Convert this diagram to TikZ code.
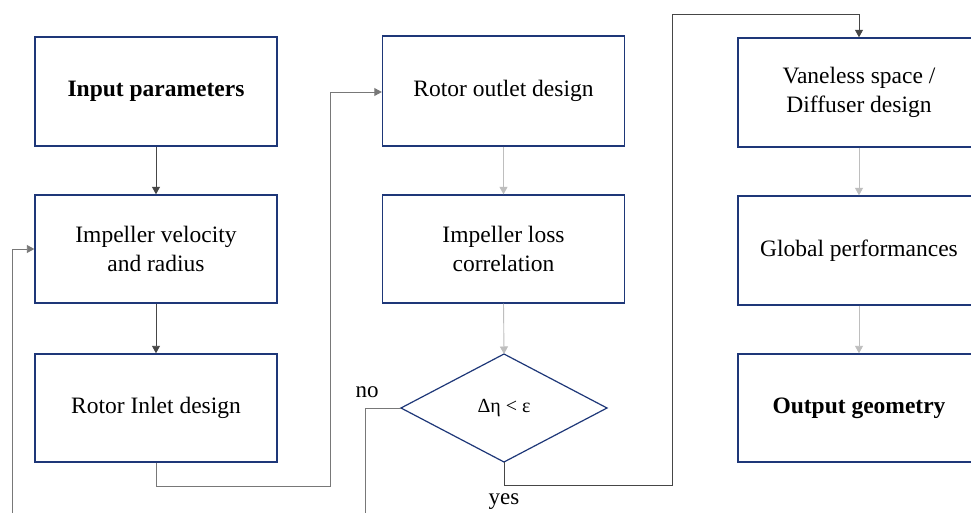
\documentclass[tikz,border=0pt]{standalone}
\usepackage{fontspec}
\setmainfont{Liberation Serif}
\usetikzlibrary{shapes.geometric,arrows.meta}
\definecolor{navy}{RGB}{30,55,120}
\definecolor{darkln}{RGB}{70,70,70}
\definecolor{midln}{RGB}{120,120,120}
\definecolor{lightln}{RGB}{190,190,190}
\tikzset{
  box/.style={draw=navy, line width=1.4pt, fill=white, minimum width=242pt, minimum height=109pt, inner sep=0pt, align=center, font=\fontsize{23.5}{28.5}\selectfont},
  decision/.style={diamond, draw=none, minimum width=206pt, minimum height=108pt, inner sep=0pt, font=\fontsize{20}{22}\selectfont},
  conn/.style={line width=0.9pt, -{Triangle[width=8pt,length=7.5pt]}},
  lbl/.style={font=\fontsize{23}{26}\selectfont, inner sep=0pt}
}
\begin{document}
\begin{tikzpicture}[x=1pt,y=-1pt]
\useasboundingbox (0,0) rectangle (971,513);
\clip (0,0) rectangle (971,513);
\fill[white] (0,0) rectangle (971,513);
% helper coordinates of the decision diamond
\coordinate (decW) at (401,408);
\coordinate (decS) at (504,462);
\coordinate (decN) at (504,354);
\coordinate (decE) at (607,408);
\draw[navy, line width=1.2pt, fill=white] (decW) -- (decN) -- (decE) -- (decS) -- cycle;
% left column
\node[box] (inp) at (156,91.5) {\bfseries Input parameters};
\node[box, minimum height=108pt] (vel) at (156,249) {Impeller velocity\\and radius};
\node[box, minimum height=108pt] (rin) at (156,408) {Rotor Inlet design};
% middle column
\node[box, minimum height=110pt] (rout) at (503.5,91) {Rotor outlet design};
\node[box, minimum height=108pt] (loss) at (503.5,249) {Impeller loss\\correlation};
\node[decision] (dec) at (504,408) {Δη < ε};
% right column
\node[box, minimum height=109pt] (vane) at (859,92.5) {Vaneless space /\\Diffuser design};
\node[box, minimum height=109pt] (glob) at (859,250.5) {Global performances};
\node[box, minimum height=108pt] (outg) at (859,408) {\bfseries Output geometry};
% connectors
\draw[conn, darkln] (inp.south) -- (vel.north);
\draw[conn, darkln] (vel.south) -- (rin.north);
\draw[conn, midln] (rin.south) -- (156,486) -- (330,486) -- (330,92) -- (rout.west |- 0,92);
\draw[conn, lightln] (rout.south) -- (loss.north);
\draw[conn, lightln] (loss.south) -- (decN);
\draw[conn, midln] (decW) -- (365,408) -- (365,530) -- (12,530) -- (12,249) -- (vel.west);
\draw[conn, darkln] (decS) -- (504,485) -- (672,485) -- (672,14) -- (859,14) -- (vane.north);
\draw[conn, lightln] (vane.south) -- (glob.north);
\draw[conn, lightln] (glob.south) -- (outg.north);
% labels
\node[lbl] (no) at (367,392) {no};
\node[lbl] (yes) at (504,502) {yes};
\end{tikzpicture}
\end{document}
